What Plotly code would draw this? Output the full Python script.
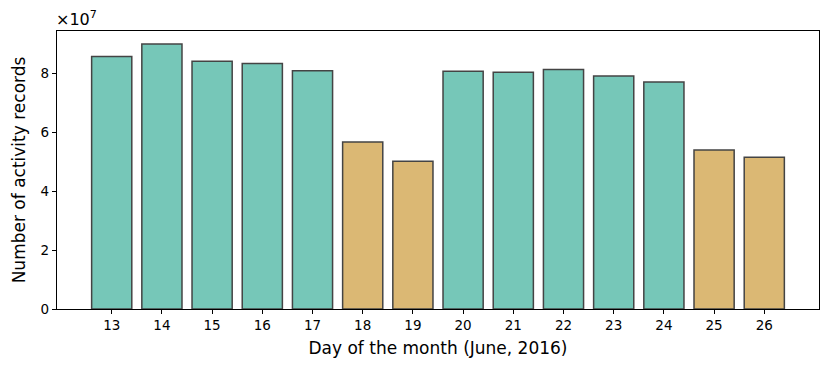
import plotly.graph_objects as go

days = [13, 14, 15, 16, 17, 18, 19, 20, 21, 22, 23, 24, 25, 26]
records = [8.57e7, 9.00e7, 8.41e7, 8.34e7, 8.09e7, 5.67e7, 5.02e7,
           8.07e7, 8.04e7, 8.13e7, 7.91e7, 7.71e7, 5.40e7, 5.15e7]
weekend = [18, 19, 25, 26]

teal = "#76c7b8"
gold = "#dbb874"
colors = [gold if d in weekend else teal for d in days]

fig = go.Figure()
fig.add_trace(go.Bar(x=days, y=records, width=0.8,
                     marker=dict(color=colors, line=dict(color="#444444", width=1.5))))

ytick_vals = [0, 2e7, 4e7, 6e7, 8e7]
ytick_text = ["0", "2", "4", "6", "8"]

# page body adds 8px margin, so figure is a bit smaller than the window
fig.update_layout(
    width=823, height=362,
    font=dict(family="DejaVu Sans", size=13.5, color="black"),
    plot_bgcolor="white", paper_bgcolor="white",
    margin=dict(l=49, r=12, t=23, b=61),
    showlegend=False,
    bargap=0.2,
)
fig.update_xaxes(range=[11.91, 27.09], tickvals=days, ticks="outside", ticklen=4,
                 tickcolor="black", showline=True, linecolor="black", linewidth=1.2,
                 mirror=True, showgrid=False, zeroline=False, automargin=False,
                 title=dict(text="Day of the month (June, 2016)", font=dict(size=17), standoff=9))
fig.update_yaxes(range=[0, 9.44e7], tickvals=ytick_vals, ticktext=ytick_text, ticks="outside",
                 ticklen=4, tickcolor="black", showline=True, linecolor="black", linewidth=1.2,
                 mirror=True, showgrid=False, zeroline=False, automargin=False,
                 title=dict(text="Number of activity records", font=dict(size=17), standoff=10))
fig.add_annotation(xref="paper", yref="paper", x=0, y=1.0, yanchor="bottom", xanchor="left",
                   xshift=-3, yshift=0, showarrow=False, text="×10<sup>7</sup>", font=dict(size=16))

fig.write_html("out.html")
